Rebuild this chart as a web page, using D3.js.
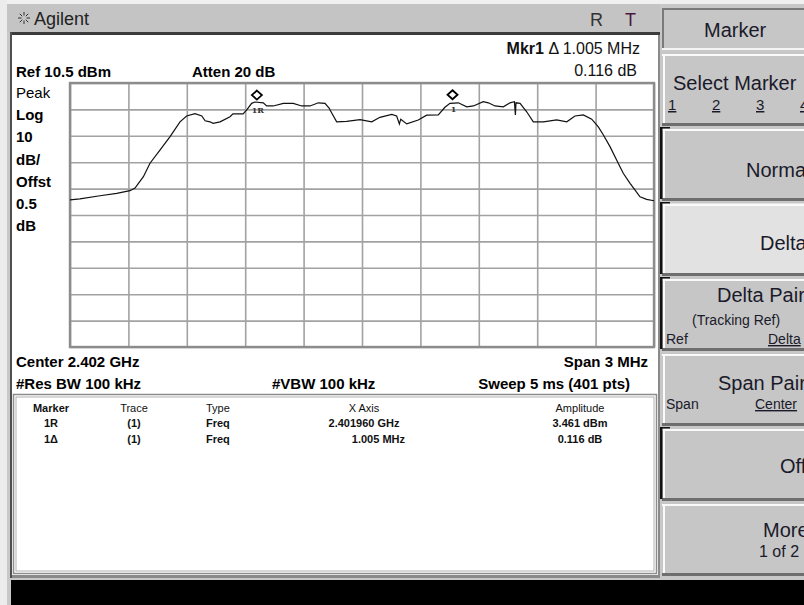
<!DOCTYPE html>
<html>
<head>
<meta charset="utf-8">
<script src="https://cdn.jsdelivr.net/npm/d3@7"></script>
<style>
  body { margin: 0; background: #c8c8c8; }
  svg { display: block; font-family: "Liberation Sans", Arial, sans-serif; }
</style>
</head>
<body>
<svg id="chart"></svg>
<script>
// trace: frequency offset from start of span (MHz) and amplitude (dBm)
let freqMHz = [0, 0.051, 0.154, 0.240, 0.308, 0.334, 0.377, 0.411, 0.462, 0.514,
  0.565, 0.599, 0.642, 0.677, 0.694, 0.719, 0.735, 0.771, 0.822, 0.837,
  0.889, 0.908, 0.933, 0.950, 0.993, 1.010, 1.044, 1.096, 1.147, 1.190,
  1.233, 1.276, 1.310, 1.332, 1.336, 1.370, 1.421, 1.490, 1.550, 1.592,
  1.653, 1.678, 1.692, 1.699, 1.730, 1.789, 1.832, 1.892, 1.926, 1.952,
  1.995, 2.038, 2.072, 2.123, 2.149, 2.183, 2.226, 2.260, 2.283, 2.288,
  2.291, 2.312, 2.346, 2.380, 2.432, 2.500, 2.552, 2.594, 2.637, 2.680,
  2.714, 2.740, 2.774, 2.808, 2.842, 2.877, 2.902, 2.928, 2.962, 3.0]
let ampDbm = [-33.8, -33.4, -32.2, -31.3, -30.3, -29.3, -25.0, -19.9, -14.9, -9.8,
  -4.2, -2.0, -1.1, -2.0, -3.8, -4.2, -4.8, -4.2, -2.3, -1.2,
  -1.2, 0.3, 2.8, 3.3, 3.0, 1.8, 1.8, 2.8, 2.8, 1.8,
  1.8, 3.0, 2.8, 0.9, 0.3, -4.2, -4.0, -3.4, -4.2, -2.5,
  -1.4, -2.0, -5.0, -3.2, -5.0, -3.5, -1.7, -1.6, 1.3, 2.8,
  3.0, 1.5, 1.8, 3.4, 3.0, 1.8, 1.5, 3.0, 3.4, -1.6,
  3.0, 2.8, -0.4, -4.2, -4.2, -3.5, -4.2, -2.0, -1.6, -3.2,
  -6.1, -9.2, -13.6, -18.7, -23.7, -27.5, -30.0, -32.6, -33.6, -34.1]

// graticule divisions
let gridFreq = [0, 0.3, 0.6, 0.9, 1.2, 1.5, 1.8, 2.1, 2.4, 2.7, 3.0]
let gridAmp = [10.5, 0.5, -9.5, -19.5, -29.5, -39.5, -49.5, -59.5, -69.5, -79.5, -89.5]

// markers
let refMarkerFreq = 0.96
let refMarkerAmp = 3.461
let deltaFreq = 1.005
let deltaAmp = 0.116

let leftLabels = ["Peak", "Log", "10", "dB/", "Offst", "0.5", "dB"]
let tableHeader = ["Marker", "Trace", "Type", "X Axis", "Amplitude"]
let tableRows = [
  ["1R", "(1)", "Freq", "2.401960 GHz", "3.461 dBm"],
  ["1\u0394", "(1)", "Freq", "1.005 MHz", "0.116 dB"]
]

let width = 804
let height = 605
let svg = d3.select("#chart").attr("width", width).attr("height", height)

let xScale = d3.scaleLinear().domain([0, 3]).range([70, 654])
let yScale = d3.scaleLinear().domain([-89.5, 10.5]).range([347, 83])

let drawFrame = () => {
  svg.append("rect").attr("width", width).attr("height", height).attr("fill", "#c8c8c8")
  svg.append("rect").attr("width", width).attr("height", 4).attr("fill", "#f0f0f0")
  svg.append("rect").attr("width", 7).attr("height", height).attr("fill", "#ececec")
  // title bar
  svg.append("rect").attr("x", 7).attr("y", 4).attr("width", 653).attr("height", 28).attr("fill", "#c4c4c4")
  svg.append("rect").attr("x", 10).attr("y", 32).attr("width", 650).attr("height", 3).attr("fill", "#3c3c3c")
  // white panel
  svg.append("rect").attr("x", 10).attr("y", 35).attr("width", 650).attr("height", 543).attr("fill", "#8a8a8a")
  svg.append("rect").attr("x", 12).attr("y", 35).attr("width", 646).attr("height", 540).attr("fill", "#fff")
  svg.append("rect").attr("x", 10).attr("y", 32).attr("width", 2).attr("height", 546).attr("fill", "#505050")
  // black status bar
  svg.append("rect").attr("x", 11).attr("y", 580).attr("width", 793).attr("height", 25).attr("fill", "#000")

  // sun icon + Agilent
  let icon = svg.append("g").attr("transform", "translate(24,18)")
  d3.range(8).forEach((i) => {
    let a = i * Math.PI / 4
    icon.append("line")
      .attr("x1", Math.cos(a) * 2.5).attr("y1", Math.sin(a) * 2.5)
      .attr("x2", Math.cos(a) * 6).attr("y2", Math.sin(a) * 6)
      .attr("stroke", "#333").attr("stroke-width", 1)
  })
  svg.append("text").text("Agilent").attr("x", 34).attr("y", 25)
    .style("font-size", "18px").attr("fill", "#222")
  svg.append("text").text("R").attr("x", 590).attr("y", 26)
    .style("font-size", "18px").attr("fill", "#333")
  svg.append("text").text("T").attr("x", 625).attr("y", 26)
    .style("font-size", "18px").attr("fill", "#4a1840")
}

let drawAnnotations = () => {
  let mk = svg.append("text").attr("x", 640).attr("y", 54).attr("text-anchor", "end")
    .style("font-size", "16px").attr("fill", "#111")
  mk.append("tspan").text("Mkr1").style("font-weight", "bold")
  mk.append("tspan").text(" \u0394  " + deltaFreq.toFixed(3) + " MHz")
  svg.append("text").text(deltaAmp.toFixed(3) + " dB").attr("x", 637).attr("y", 76)
    .attr("text-anchor", "end").style("font-size", "16px").attr("fill", "#111")

  svg.append("text").text("Ref 10.5 dBm").attr("x", 16).attr("y", 77)
    .style("font-size", "15px").style("font-weight", "bold")
  svg.append("text").text("Atten 20 dB").attr("x", 192).attr("y", 77)
    .style("font-size", "15px").style("font-weight", "bold")

  svg.selectAll(".leftlab").data(leftLabels).enter().append("text")
    .attr("class", "leftlab")
    .text((d) => d)
    .attr("x", 16)
    .attr("y", (d, i) => 98 + i * 22.2)
    .style("font-size", "15px").style("font-weight", (d, i) => i == 0 ? "normal" : "bold")

  svg.append("text").text("Center 2.402 GHz").attr("x", 16).attr("y", 367)
    .style("font-size", "15px").style("font-weight", "bold")
  svg.append("text").text("Span 3 MHz").attr("x", 648).attr("y", 367).attr("text-anchor", "end")
    .style("font-size", "15px").style("font-weight", "bold")
  svg.append("text").text("#Res BW 100 kHz").attr("x", 16).attr("y", 389)
    .style("font-size", "15px").style("font-weight", "bold")
  svg.append("text").text("#VBW 100 kHz").attr("x", 272).attr("y", 389)
    .style("font-size", "15px").style("font-weight", "bold")
  svg.append("text").text("Sweep 5 ms (401 pts)").attr("x", 630).attr("y", 389).attr("text-anchor", "end")
    .style("font-size", "15px").style("font-weight", "bold")
}

let drawGraticule = () => {
  let g = svg.append("g")
  let xAxis = d3.axisBottom(xScale).tickValues(gridFreq).tickSize(-(347 - 83)).tickFormat("")
  let yAxis = d3.axisLeft(yScale).tickValues(gridAmp).tickSize(-(654 - 70)).tickFormat("")
  g.append("g").attr("transform", "translate(0,347)").call(xAxis)
  g.append("g").attr("transform", "translate(70,0)").call(yAxis)
  g.selectAll(".domain").remove()
  g.selectAll(".tick line").attr("stroke", "#a2a2a2").attr("stroke-width", 1.6)
  g.append("rect").attr("x", 70).attr("y", 83).attr("width", 584).attr("height", 264)
    .attr("fill", "none").attr("stroke", "#8c8c8c").attr("stroke-width", 2.4)
}

let drawTrace = () => {
  let pts = freqMHz.map((f, i) => [f, ampDbm[i]])
  let line = d3.line().x((d) => xScale(d[0])).y((d) => yScale(d[1]))
  svg.append("path").datum(pts).attr("d", line)
    .attr("fill", "none").attr("stroke", "#111").attr("stroke-width", 1.2)

  let markers = [
    { f: refMarkerFreq, a: refMarkerAmp, label: "1R" },
    { f: refMarkerFreq + deltaFreq, a: refMarkerAmp + deltaAmp, label: "1" }
  ]
  markers.forEach((m) => {
    let cx = xScale(m.f)
    let cy = yScale(m.a) - 6.5
    svg.append("path")
      .attr("d", "M" + cx + "," + (cy - 4.5) + " L" + (cx + 5) + "," + cy + " L" + cx + "," + (cy + 4.5) + " L" + (cx - 5) + "," + cy + " Z")
      .attr("fill", "none").attr("stroke", "#000").attr("stroke-width", 1.8)
    svg.append("text").text(m.label).attr("x", cx + 1).attr("y", yScale(m.a) + 11)
      .attr("text-anchor", "middle")
      .style("font-family", "'DejaVu Serif', serif").style("font-size", "8px").style("font-weight", "bold")
      .attr("fill", "#333")
  })
}

let drawTable = () => {
  svg.append("rect").attr("x", 13.5).attr("y", 394.5).attr("width", 643).attr("height", 179)
    .attr("fill", "none").attr("stroke", "#8c8c8c").attr("stroke-width", 1.5)
  svg.append("rect").attr("x", 16).attr("y", 397).attr("width", 638).attr("height", 174)
    .attr("fill", "#fff").attr("stroke", "#b0b0b0").attr("stroke-width", 1)

  let cols = [
    { x: 51, anchor: "middle" },
    { x: 134, anchor: "middle" },
    { x: 206, anchor: "start" },
    { x: 364, anchor: "middle" },
    { x: 580, anchor: "middle" }
  ]
  let rows = [tableHeader].concat(tableRows)
  rows.forEach((row, r) => {
    row.forEach((cell, c) => {
      let anchor = cols[c].anchor
      let x = cols[c].x
      if (r == 2 && c == 3) { anchor = "end"; x = 405 }
      svg.append("text").text(cell)
        .attr("x", x).attr("y", 412 + r * 15.3)
        .attr("text-anchor", anchor)
        .style("font-size", "11px").style("font-weight", r == 0 && c > 0 ? "normal" : "bold")
        .attr("fill", "#111")
    })
  })
}

let drawSoftkeys = () => {
  let k = svg.append("g")
  // title key (sunken)
  k.append("rect").attr("x", 662).attr("y", 8).attr("width", 150).attr("height", 42).attr("fill", "#c6c6c6")
  k.append("rect").attr("x", 662).attr("y", 8).attr("width", 150).attr("height", 2).attr("fill", "#7a7a7a")
  k.append("rect").attr("x", 662).attr("y", 8).attr("width", 2).attr("height", 42).attr("fill", "#7a7a7a")
  k.append("rect").attr("x", 662).attr("y", 48).attr("width", 150).attr("height", 2).attr("fill", "#f4f4f4")
  k.append("text").text("Marker").attr("x", 704).attr("y", 37).style("font-size", "20px").attr("fill", "#1a1a2a")

  let keys = [
    { top: 53, fill: "#c6c6c6", black: false },
    { top: 128, fill: "#c6c6c6", black: true },
    { top: 203, fill: "#e2e2e2", black: true },
    { top: 278, fill: "#c6c6c6", black: true },
    { top: 353, fill: "#c6c6c6", black: false },
    { top: 428, fill: "#c6c6c6", black: true },
    { top: 503, fill: "#c6c6c6", black: false }
  ]
  keys.forEach((d) => {
    k.append("rect").attr("x", 662).attr("y", d.top).attr("width", 150).attr("height", 72).attr("fill", d.fill)
    k.append("rect").attr("x", 662).attr("y", d.top + 1).attr("width", 150).attr("height", 2).attr("fill", "#fafafa")
    k.append("rect").attr("x", 663).attr("y", d.top + 1).attr("width", 2).attr("height", 70).attr("fill", "#fafafa")
    k.append("rect").attr("x", 662).attr("y", d.top + 70).attr("width", 150).attr("height", 3).attr("fill", "#6e6e6e")
    if (d.black) {
      k.append("rect").attr("x", 660).attr("y", d.top - 1).attr("width", 2.5).attr("height", 72).attr("fill", "#111")
      k.append("rect").attr("x", 660).attr("y", d.top - 1).attr("width", 10).attr("height", 1.5).attr("fill", "#111")
    }
  })

  let big = (t, x, y) => k.append("text").text(t).attr("x", x).attr("y", y).style("font-size", "20px").attr("fill", "#1a1a2a")
  let small = (t, x, y, u) => k.append("text").text(t).attr("x", x).attr("y", y).style("font-size", "14px")
    .attr("fill", "#1a1a2a").style("text-decoration", u ? "underline" : "none")

  big("Select Marker", 673, 90)
  let nums = ["1", "2", "3", "4"]
  nums.forEach((n, i) => {
    k.append("text").text(n).attr("x", 668 + i * 44).attr("y", 110)
      .style("font-size", "15px").style("text-decoration", "underline").attr("fill", "#1a1a2a")
  })
  big("Normal", 746, 177)
  big("Delta", 760, 250)
  big("Delta Pair", 717, 302)
  small("(Tracking Ref)", 692, 325, false)
  small("Ref", 666, 344, false)
  small("Delta", 768, 344, true)
  big("Span Pair", 718, 390)
  small("Span", 666, 409, false)
  small("Center", 755, 409, true)
  big("Off", 780, 473)
  big("More", 763, 537)
  k.append("text").text("1 of 2").attr("x", 759).attr("y", 557).style("font-size", "16px").attr("fill", "#1a1a2a")
}

drawFrame()
drawAnnotations()
drawGraticule()
drawTrace()
drawTable()
drawSoftkeys()
</script>
</body>
</html>
